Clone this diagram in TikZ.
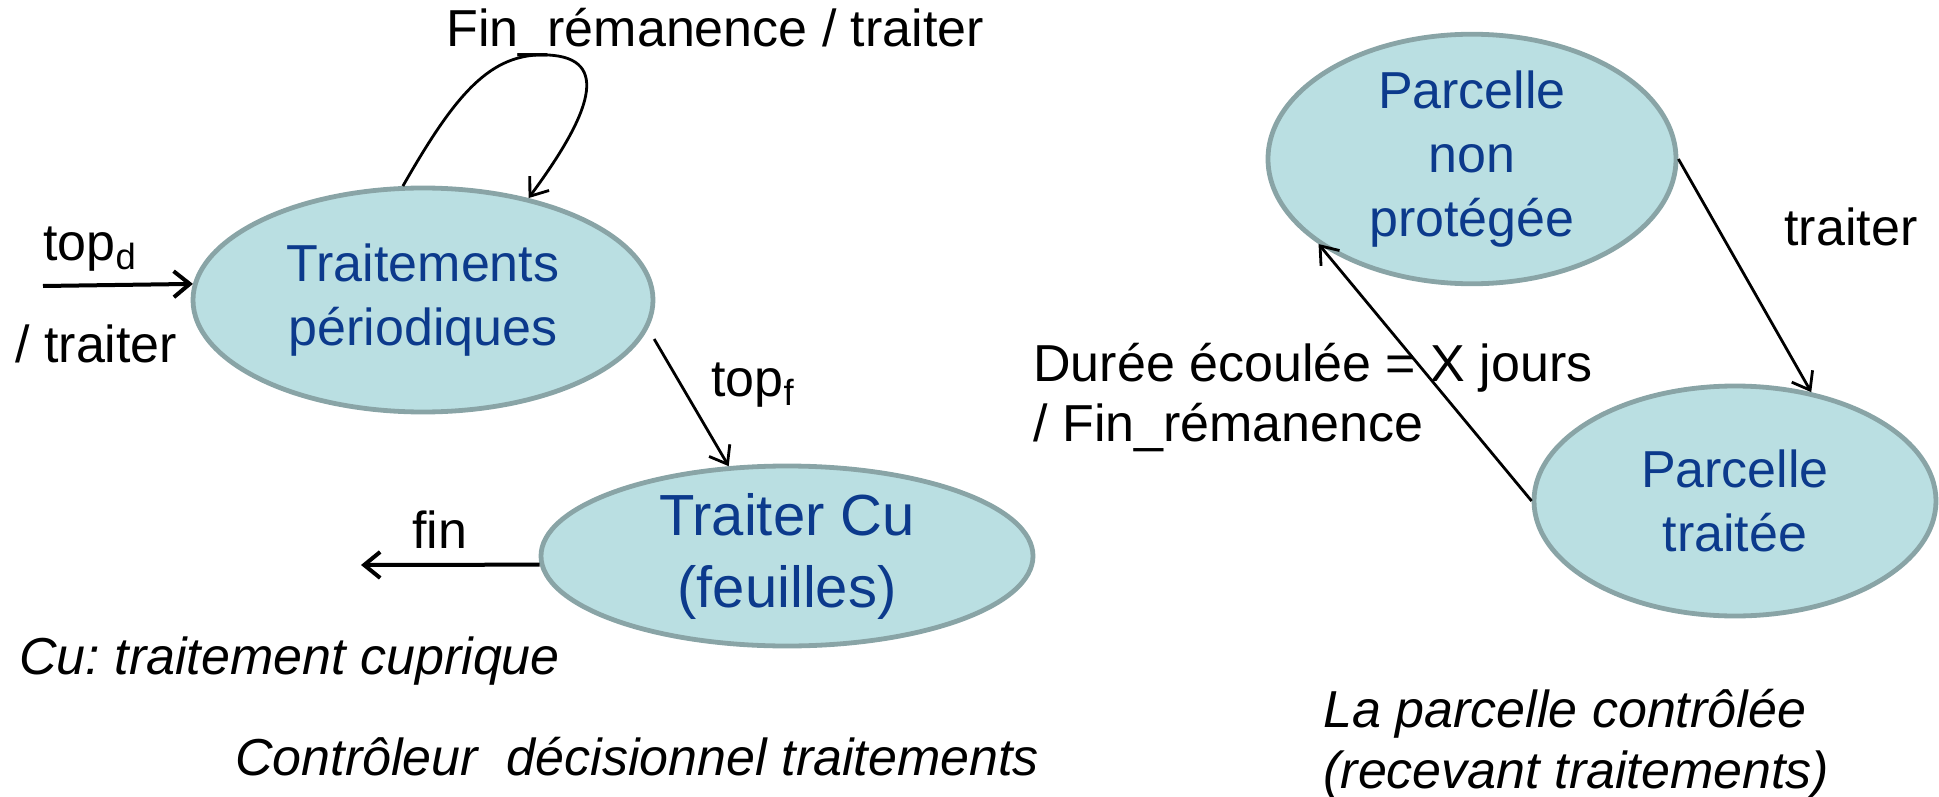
\documentclass[tikz,border=0pt]{standalone}
\usepackage{fontspec}
\setmainfont{Liberation Sans}
\usetikzlibrary{shapes.geometric,arrows.meta}
\definecolor{statefill}{RGB}{186,223,226}
\definecolor{stateedge}{RGB}{137,164,166}
\definecolor{statetext}{RGB}{12,58,140}
\frenchspacing
\tikzset{
  state/.style={ellipse, draw=stateedge, fill=statefill, line width=2.4pt,
    inner sep=0pt, align=center, text=statetext,
    font=\fontsize{26}{32}\selectfont},
  lbl/.style={anchor=base west, inner sep=0pt, font=\fontsize{26}{31}\selectfont},
  caption/.style={lbl, font=\fontsize{26}{31}\selectfont\itshape},
  trans/.style={line width=1.4pt, -{Straight Barb[length=8pt,width=12pt,line width=1.4pt]}},
  transthick/.style={line width=2pt, -{Straight Barb[length=8pt,width=13pt,line width=2pt]}}
}
\begin{document}
\begin{tikzpicture}[x=0.5pt,y=-0.5pt]
\useasboundingbox (0,0) rectangle (1939,797);

% controller states
\node[state, minimum width=230pt, minimum height=112pt] (tp) at (423,300) {Traitements\\périodiques};
\node[state, minimum width=246pt, minimum height=90pt,
      font=\fontsize{29}{36}\selectfont] (cu) at (787,556) {Traiter Cu\\(feuilles)};

% plot states
\node[state, minimum width=204pt, minimum height=107pt] (pnp) at (1472,159) {Parcelle\\non\\protégée};
\node[state, minimum width=201pt, minimum height=115pt] (ptr) at (1735,501) {Parcelle\\traitée};

% free ends
\coordinate (start) at (43,286);
\coordinate (stop) at (361,565);

% controller transitions
\draw[transthick] (start) -- (tp.176.5);
\draw[trans] (tp.100) .. controls (455,95) and (490,52) .. (548,55)
             .. controls (612,58) and (590,115) .. (tp.44);
\draw[trans] ([shift={(15,-3)}]tp.-11) -- (cu.123);
\draw[transthick] (cu.182) -- (stop);

% plot transitions
\draw[trans] (pnp.east) -- (ptr.55);
\draw[trans] (ptr.west) -- (pnp.-151);

% labels
\node[lbl] (loopl) at (446,47) {Fin\_rémanence / traiter};
\node[lbl] (topd) at (43,260) {top\textsubscript{d}};
\node[lbl] (trt) at (15,362) {/ traiter};
\node[lbl] (topf) at (711,396) {top\textsubscript{f}};
\node[lbl] (fin) at (412,548) {fin};
\node[caption] (cuinfo) at (19,674) {Cu: traitement cuprique};
\node[caption] (ctrl) at (235,775) {Contrôleur~ décisionnel traitements};

\node[lbl] (trr) at (1784,245) {traiter};
\node[lbl] (dur) at (1033,381) {Durée écoulée = X jours};
\node[lbl] (finr) at (1033,441) {/ Fin\_rémanence};
\node[caption] (plot1) at (1323,727) {La parcelle contrôlée};
\node[caption] (plot2) at (1323,788) {(recevant traitements)};
\end{tikzpicture}
\end{document}
